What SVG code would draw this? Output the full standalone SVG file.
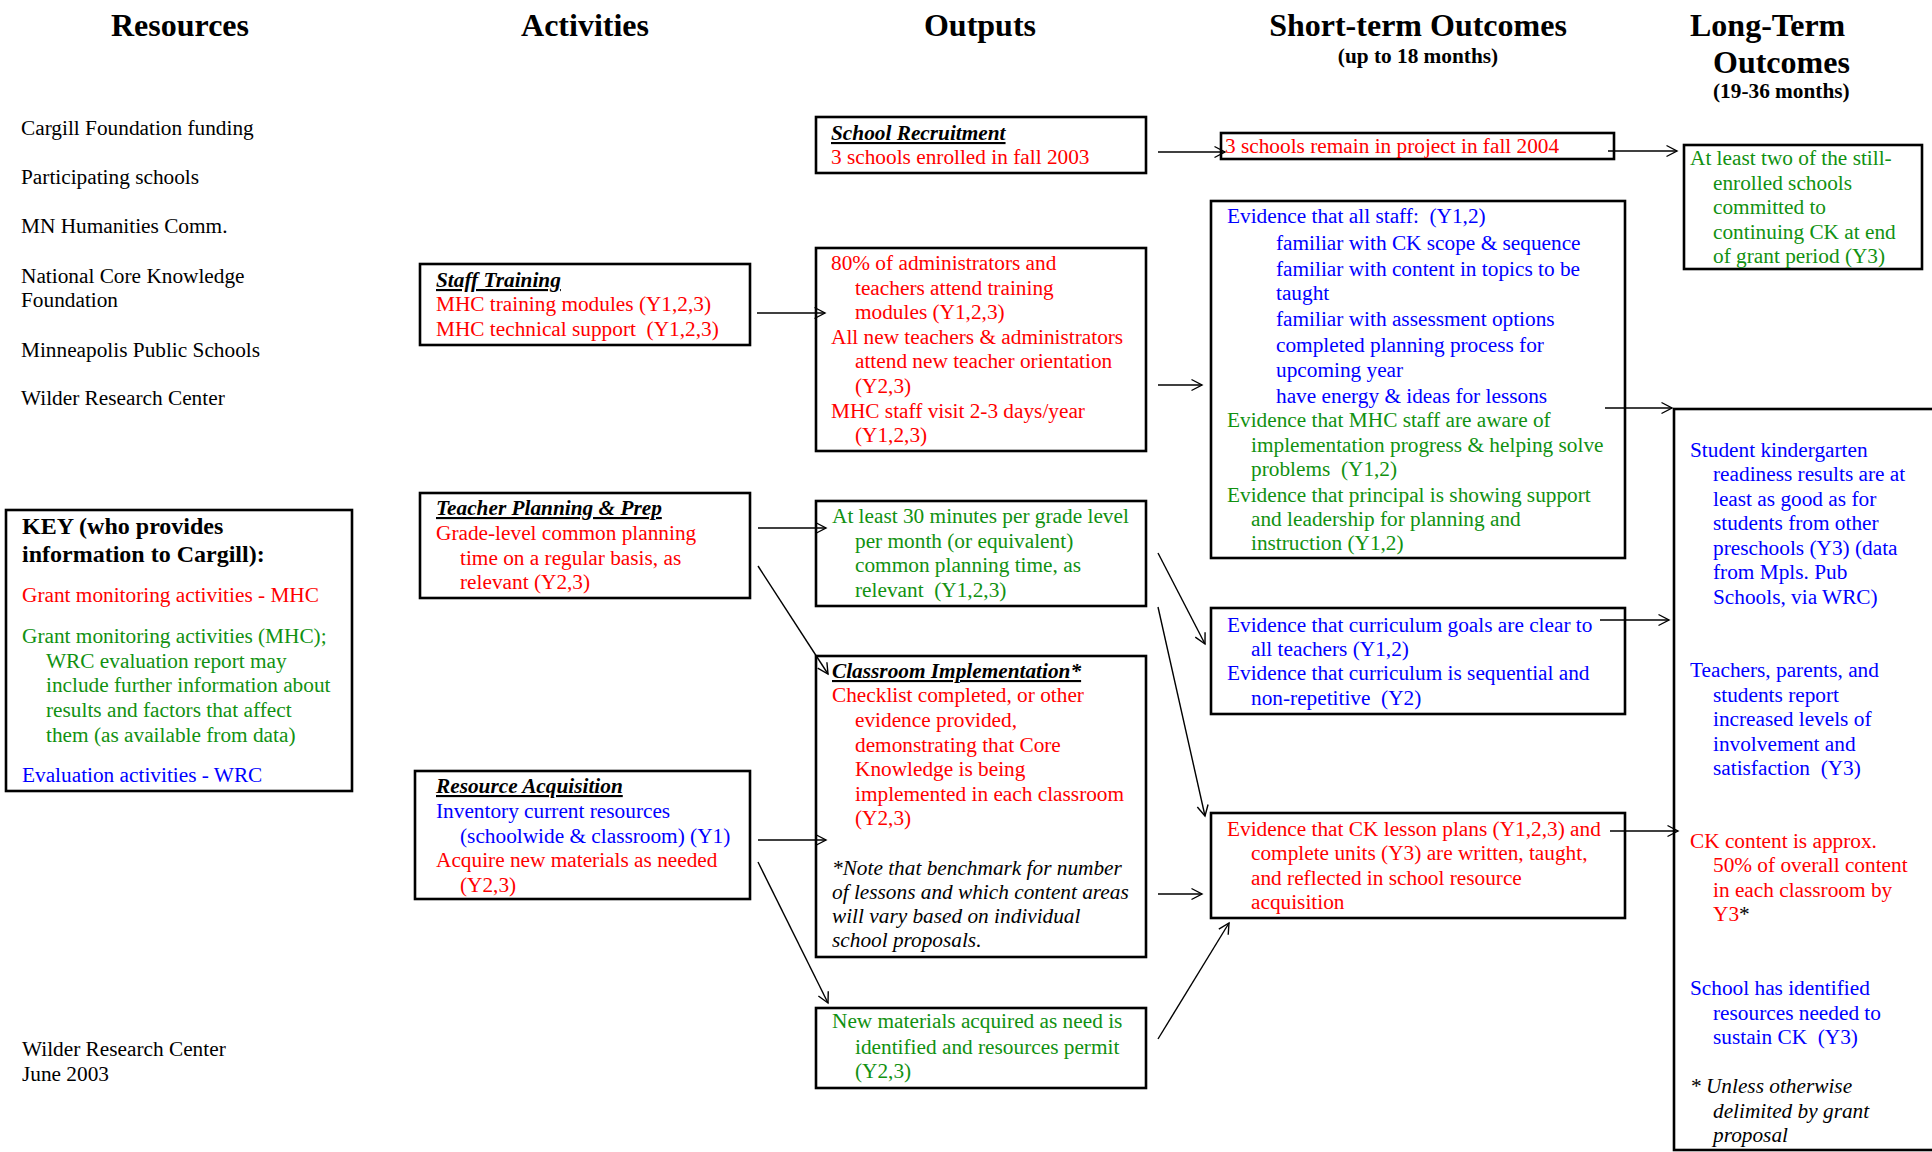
<svg xmlns="http://www.w3.org/2000/svg" width="1932" height="1152" viewBox="0 0 1932 1152">
<defs>
<style>
text{font-family:"Liberation Serif","Times New Roman",serif;font-size:21.3px;fill:#000;white-space:pre}
.h{font-weight:bold;font-size:32px}
.m{text-anchor:middle}
.sb{font-weight:bold;font-size:21.3px}
.kt{font-weight:bold;font-size:24px}
.r{fill:#ff0000}.b{fill:#0000ff}.g{fill:#119111}.k{fill:#000}
.ti{font-weight:bold;font-style:italic;text-decoration:underline}
.it{font-style:italic}
.box{fill:none;stroke:#000;stroke-width:2.6}
.c{fill:none;stroke:#000;stroke-width:1.4;marker-end:url(#ah)}
</style>
<marker id="ah" markerUnits="userSpaceOnUse" markerWidth="14" markerHeight="14" refX="12" refY="7" orient="auto" viewBox="0 0 14 14"><path d="M1.5,1.5 L12,7 L1.5,12.5" fill="none" stroke="#000" stroke-width="1.4"/></marker>
</defs>
<rect x="0" y="0" width="1932" height="1152" fill="#fff"/>

<g id="headers">
<text class="h m" x="180" y="36">Resources</text>
<text class="h m" x="585" y="36">Activities</text>
<text class="h m" x="980" y="36">Outputs</text>
<text class="h m" x="1418" y="36">Short-term Outcomes</text>
<text class="sb m" x="1418" y="63">(up to 18 months)</text>
<text class="h" x="1690" y="36">Long-Term</text>
<text class="h" x="1713" y="73">Outcomes</text>
<text class="sb" x="1713" y="98">(19-36 months)</text>
</g>

<g id="resources">
<text x="21" y="135">Cargill Foundation funding</text>
<text x="21" y="184">Participating schools</text>
<text x="21" y="233">MN Humanities Comm.</text>
<text x="21" y="283">National Core Knowledge</text>
<text x="21" y="307">Foundation</text>
<text x="21" y="357">Minneapolis Public Schools</text>
<text x="21" y="405">Wilder Research Center</text>
</g>

<g id="key">
<rect class="box" x="6" y="510" width="346" height="281"/>
<text class="kt" x="22" y="534">KEY (who provides</text>
<text class="kt" x="22" y="562">information to Cargill):</text>
<text class="r" x="22" y="602">Grant monitoring activities - MHC</text>
<text class="g" x="22" y="643">Grant monitoring activities (MHC);</text>
<text class="g" x="46" y="668">WRC evaluation report may</text>
<text class="g" x="46" y="692">include further information about</text>
<text class="g" x="46" y="717">results and factors that affect</text>
<text class="g" x="46" y="742">them (as available from data)</text>
<text class="b" x="22" y="782">Evaluation activities - WRC</text>
</g>

<g id="footer">
<text x="22" y="1056">Wilder Research Center</text>
<text x="22" y="1081">June 2003</text>
</g>

<g id="staff-training">
<rect class="box" x="420" y="264" width="330" height="81"/>
<text class="ti" x="436" y="287">Staff Training</text>
<text class="r" x="436" y="311">MHC training modules (Y1,2,3)</text>
<text class="r" x="436" y="336">MHC technical support  (Y1,2,3)</text>
</g>

<g id="teacher-planning">
<rect class="box" x="420" y="493" width="330" height="105"/>
<text class="ti" x="436" y="515">Teacher Planning &amp; Prep</text>
<text class="r" x="436" y="540">Grade-level common planning</text>
<text class="r" x="460" y="565">time on a regular basis, as</text>
<text class="r" x="460" y="589">relevant (Y2,3)</text>
</g>

<g id="resource-acquisition">
<rect class="box" x="415" y="771" width="335" height="128"/>
<text class="ti" x="436" y="793">Resource Acquisition</text>
<text class="b" x="436" y="818">Inventory current resources</text>
<text class="b" x="460" y="843">(schoolwide &amp; classroom) (Y1)</text>
<text class="r" x="436" y="867">Acquire new materials as needed</text>
<text class="r" x="460" y="892">(Y2,3)</text>
</g>

<g id="out-school-recruitment">
<rect class="box" x="816" y="117" width="330" height="56"/>
<text class="ti" x="831" y="140">School Recruitment</text>
<text class="r" x="831" y="164">3 schools enrolled in fall 2003</text>
</g>

<g id="out-training">
<rect class="box" x="816" y="248" width="330" height="203"/>
<text class="r" x="831" y="270">80% of administrators and</text>
<text class="r" x="855" y="295">teachers attend training</text>
<text class="r" x="855" y="319">modules (Y1,2,3)</text>
<text class="r" x="831" y="344">All new teachers &amp; administrators</text>
<text class="r" x="855" y="368">attend new teacher orientation</text>
<text class="r" x="855" y="393">(Y2,3)</text>
<text class="r" x="831" y="418">MHC staff visit 2-3 days/year</text>
<text class="r" x="855" y="442">(Y1,2,3)</text>
</g>

<g id="out-planning">
<rect class="box" x="816" y="501" width="330" height="105"/>
<text class="g" x="832" y="523">At least 30 minutes per grade level</text>
<text class="g" x="855" y="548">per month (or equivalent)</text>
<text class="g" x="855" y="572">common planning time, as</text>
<text class="g" x="855" y="597">relevant  (Y1,2,3)</text>
</g>

<g id="out-classroom">
<rect class="box" x="816" y="656" width="330" height="301"/>
<text class="ti" x="832" y="678">Classroom Implementation*</text>
<text class="r" x="832" y="702">Checklist completed, or other</text>
<text class="r" x="855" y="727">evidence provided,</text>
<text class="r" x="855" y="752">demonstrating that Core</text>
<text class="r" x="855" y="776">Knowledge is being</text>
<text class="r" x="855" y="801">implemented in each classroom</text>
<text class="r" x="855" y="825">(Y2,3)</text>
<text class="it" x="832" y="875">*Note that benchmark for number</text>
<text class="it" x="832" y="899">of lessons and which content areas</text>
<text class="it" x="832" y="923">will vary based on individual</text>
<text class="it" x="832" y="947">school proposals.</text>
</g>

<g id="out-materials">
<rect class="box" x="816" y="1008" width="330" height="80"/>
<text class="g" x="832" y="1028">New materials acquired as need is</text>
<text class="g" x="855" y="1054">identified and resources permit</text>
<text class="g" x="855" y="1078">(Y2,3)</text>
</g>

<g id="st-schools">
<rect class="box" x="1221" y="133" width="393" height="26"/>
<text class="r" x="1225" y="153">3 schools remain in project in fall 2004</text>
</g>

<g id="st-staff">
<rect class="box" x="1211" y="201" width="414" height="357"/>
<text class="b" x="1227" y="223">Evidence that all staff:  (Y1,2)</text>
<text class="b" x="1276" y="250">familiar with CK scope &amp; sequence</text>
<text class="b" x="1276" y="276">familiar with content in topics to be</text>
<text class="b" x="1276" y="300">taught</text>
<text class="b" x="1276" y="326">familiar with assessment options</text>
<text class="b" x="1276" y="352">completed planning process for</text>
<text class="b" x="1276" y="377">upcoming year</text>
<text class="b" x="1276" y="403">have energy &amp; ideas for lessons</text>
<text class="g" x="1227" y="427">Evidence that MHC staff are aware of</text>
<text class="g" x="1251" y="452">implementation progress &amp; helping solve</text>
<text class="g" x="1251" y="476">problems  (Y1,2)</text>
<text class="g" x="1227" y="502">Evidence that principal is showing support</text>
<text class="g" x="1251" y="526">and leadership for planning and</text>
<text class="g" x="1251" y="550">instruction (Y1,2)</text>
</g>

<g id="st-curriculum">
<rect class="box" x="1211" y="608" width="414" height="106"/>
<text class="b" x="1227" y="632">Evidence that curriculum goals are clear to</text>
<text class="b" x="1251" y="656">all teachers (Y1,2)</text>
<text class="b" x="1227" y="680">Evidence that curriculum is sequential and</text>
<text class="b" x="1251" y="705">non-repetitive  (Y2)</text>
</g>

<g id="st-lessons">
<rect class="box" x="1211" y="813" width="414" height="105"/>
<text class="r" x="1227" y="836">Evidence that CK lesson plans (Y1,2,3) and</text>
<text class="r" x="1251" y="860">complete units (Y3) are written, taught,</text>
<text class="r" x="1251" y="885">and reflected in school resource</text>
<text class="r" x="1251" y="909">acquisition</text>
</g>

<g id="lt-commit">
<rect class="box" x="1684" y="145" width="238" height="124"/>
<text class="g" x="1690" y="165">At least two of the still-</text>
<text class="g" x="1713" y="190">enrolled schools</text>
<text class="g" x="1713" y="214">committed to</text>
<text class="g" x="1713" y="239">continuing CK at end</text>
<text class="g" x="1713" y="263">of grant period (Y3)</text>
</g>

<g id="lt-results">
<rect class="box" x="1674" y="409" width="300" height="741"/>
<text class="b" x="1690" y="457">Student kindergarten</text>
<text class="b" x="1713" y="481">readiness results are at</text>
<text class="b" x="1713" y="506">least as good as for</text>
<text class="b" x="1713" y="530">students from other</text>
<text class="b" x="1713" y="555">preschools (Y3) (data</text>
<text class="b" x="1713" y="579">from Mpls. Pub</text>
<text class="b" x="1713" y="604">Schools, via WRC)</text>
<text class="b" x="1690" y="677">Teachers, parents, and</text>
<text class="b" x="1713" y="702">students report</text>
<text class="b" x="1713" y="726">increased levels of</text>
<text class="b" x="1713" y="751">involvement and</text>
<text class="b" x="1713" y="775">satisfaction  (Y3)</text>
<text class="r" x="1690" y="848">CK content is approx.</text>
<text class="r" x="1713" y="872">50% of overall content</text>
<text class="r" x="1713" y="897">in each classroom by</text>
<text class="r" x="1713" y="921">Y3<tspan class="k">*</tspan></text>
<text class="b" x="1690" y="995">School has identified</text>
<text class="b" x="1713" y="1020">resources needed to</text>
<text class="b" x="1713" y="1044">sustain CK  (Y3)</text>
<text class="it" x="1690" y="1093">* Unless otherwise</text>
<text class="it" x="1713" y="1118">delimited by grant</text>
<text class="it" x="1713" y="1142">proposal</text>
</g>

<g id="connectors">
<path class="c" d="M1158,152 L1225,152"/>
<path class="c" d="M1608,151 L1677,151"/>
<path class="c" d="M757,313 L825,313"/>
<path class="c" d="M1158,385 L1202,385"/>
<path class="c" d="M1605,408 L1672,408"/>
<path class="c" d="M758,528 L826,528"/>
<path class="c" d="M758,566 L828,674"/>
<path class="c" d="M758,840 L826,840"/>
<path class="c" d="M758,862 L828,1003"/>
<path class="c" d="M1158,553 L1205,644"/>
<path class="c" d="M1158,607 L1205,816"/>
<path class="c" d="M1158,894 L1202,894"/>
<path class="c" d="M1158,1039 L1229,923"/>
<path class="c" d="M1600,620 L1669,620"/>
<path class="c" d="M1610,831 L1678,831"/>
</g>
</svg>
